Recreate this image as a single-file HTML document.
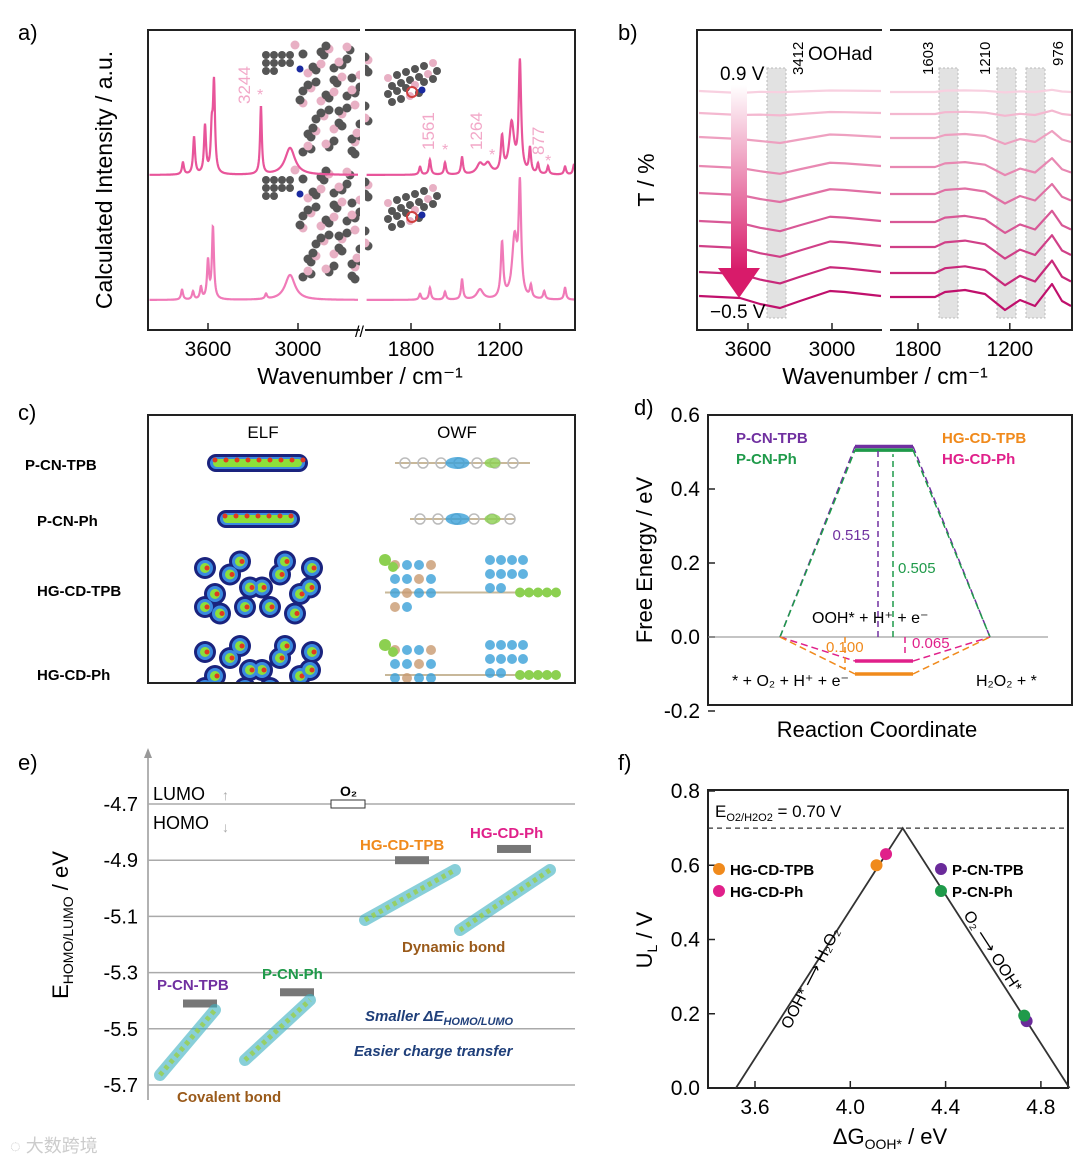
<!DOCTYPE html>
<html><head><meta charset="utf-8"><style>
body{margin:0;background:#fff}
svg text{font-family:"Liberation Sans",sans-serif}
</style></head><body>
<svg id="s" width="1080" height="1165" viewBox="0 0 1080 1165" xmlns="http://www.w3.org/2000/svg">
<defs>
<clipPath id="clipc"><rect x="149" y="416" width="425" height="266"/></clipPath>
<linearGradient id="ag" x1="0" y1="0" x2="0" y2="1"><stop offset="0" stop-color="#fff"/><stop offset="1" stop-color="#d81b6a"/></linearGradient>
</defs>
<!-- ===== Panel a ===== -->
<g>
<text x="18" y="40" font-size="22">a)</text>
<g id="mol"></g>
<g id="aspec"></g>
<rect x="148" y="30" width="427" height="300" fill="none" stroke="#222" stroke-width="2"/>
<rect x="360" y="20" width="5" height="320" fill="#fff"/>
<text x="112" y="180" font-size="23" transform="rotate(-90 112 180)" text-anchor="middle">Calculated Intensity / a.u.</text>
<text x="360" y="384" font-size="23" text-anchor="middle">Wavenumber / cm⁻¹</text>
<g id="aticks"></g>
<text x="250" y="104" font-size="17" fill="#f2a8c8" transform="rotate(-90 250 104)">3244</text>
<text x="257" y="100" font-size="16" fill="#f2a8c8">*</text>
<text x="434" y="150" font-size="17" fill="#f2a8c8" transform="rotate(-90 434 150)">1561</text>
<text x="442" y="155" font-size="16" fill="#f2a8c8">*</text>
<text x="482" y="150" font-size="17" fill="#f2a8c8" transform="rotate(-90 482 150)">1264</text>
<text x="489" y="160" font-size="16" fill="#f2a8c8">*</text>
<text x="544" y="155" font-size="17" fill="#f2a8c8" transform="rotate(-90 544 155)">877</text>
<text x="545" y="166" font-size="16" fill="#f2a8c8">*</text>
</g>
<!-- ===== Panel b ===== -->
<g>
<text x="618" y="40" font-size="22">b)</text>
<rect x="767" y="68" width="19" height="250" fill="#e2e2e2" stroke="#bbb" stroke-dasharray="2,2"/>
<rect x="939" y="68" width="19" height="250" fill="#e2e2e2" stroke="#bbb" stroke-dasharray="2,2"/>
<rect x="997" y="68" width="19" height="250" fill="#e2e2e2" stroke="#bbb" stroke-dasharray="2,2"/>
<rect x="1026" y="68" width="19" height="250" fill="#e2e2e2" stroke="#bbb" stroke-dasharray="2,2"/>
<g id="bspec"></g>
<rect x="697" y="30" width="375" height="300" fill="none" stroke="#222" stroke-width="2"/>
<rect x="882" y="20" width="8" height="320" fill="#fff"/>
<rect x="731" y="85" width="16" height="185" fill="url(#ag)"/>
<polygon points="718,268 760,268 739,298" fill="#d81b6a"/>
<text x="720" y="80" font-size="19">0.9 V</text>
<text x="710" y="318" font-size="19">−0.5 V</text>
<text x="654" y="180" font-size="23" transform="rotate(-90 654 180)" text-anchor="middle">T / %</text>
<text x="885" y="384" font-size="23" text-anchor="middle">Wavenumber / cm⁻¹</text>
<text x="808" y="60" font-size="19">OOHad</text>
<text x="803" y="75" font-size="15" transform="rotate(-90 803 75)">3412</text>
<text x="933" y="75" font-size="15" transform="rotate(-90 933 75)">1603</text>
<text x="990" y="75" font-size="15" transform="rotate(-90 990 75)">1210</text>
<text x="1063" y="66" font-size="15" transform="rotate(-90 1063 66)">976</text>
<g id="bticks"></g>
</g>
<!-- ===== Panel c ===== -->
<g>
<text x="18" y="420" font-size="22">c)</text>
<text x="263" y="438" font-size="17" text-anchor="middle">ELF</text>
<text x="457" y="438" font-size="17" text-anchor="middle">OWF</text>
<g font-size="15" font-weight="bold">
<text x="25" y="470">P-CN-TPB</text>
<text x="37" y="526">P-CN-Ph</text>
<text x="37" y="596">HG-CD-TPB</text>
<text x="37" y="680">HG-CD-Ph</text>
</g>
<g clip-path="url(#clipc)">
<g id="elfg"></g>
<g id="owfg"></g>
</g>
<rect x="148" y="415" width="427" height="268" fill="none" stroke="#222" stroke-width="2"/>
</g>
<!-- ===== Panel d ===== -->
<g>
<text x="634" y="415" font-size="22">d)</text>
<rect x="708" y="415" width="364" height="290" fill="none" stroke="#222" stroke-width="2"/>
<g id="dplot"></g>
<text x="652" y="560" font-size="22" transform="rotate(-90 652 560)" text-anchor="middle">Free Energy / eV</text>
<text x="877" y="737" font-size="22" text-anchor="middle">Reaction Coordinate</text>
<g font-size="15" font-weight="bold">
<text x="736" y="443" fill="#7030a0">P-CN-TPB</text>
<text x="736" y="464" fill="#1f9a4a">P-CN-Ph</text>
<text x="942" y="443" fill="#f08a1c">HG-CD-TPB</text>
<text x="942" y="464" fill="#e0208a">HG-CD-Ph</text>
</g>
<text x="812" y="623" font-size="16">OOH* + H⁺ + e⁻</text>
<text x="732" y="686" font-size="16">* + O₂ + H⁺ + e⁻</text>
<text x="976" y="686" font-size="16">H₂O₂ + *</text>
</g>
<!-- ===== Panel e ===== -->
<g>
<text x="18" y="770" font-size="22">e)</text>
<g id="eplot"></g>
<text x="68" y="925" font-size="22" transform="rotate(-90 68 925)" text-anchor="middle">E<tspan font-size="14" dy="5">HOMO/LUMO</tspan><tspan dy="-5"> / eV</tspan></text>
<text x="153" y="800" font-size="18">LUMO</text>
<text x="153" y="829" font-size="18">HOMO</text>
<text x="222" y="800" font-size="14" fill="#aaa">↑</text><text x="222" y="832" font-size="14" fill="#aaa">↓</text>
<text x="340" y="796" font-size="14" font-weight="bold">O₂</text>
<g font-size="15" font-weight="bold">
<text x="360" y="850" fill="#f08a1c">HG-CD-TPB</text>
<text x="470" y="838" fill="#e0208a">HG-CD-Ph</text>
<text x="157" y="990" fill="#7030a0">P-CN-TPB</text>
<text x="262" y="979" fill="#1f9a4a">P-CN-Ph</text>
<text x="402" y="952" fill="#9a5a1a">Dynamic bond</text>
<text x="177" y="1102" fill="#9a5a1a">Covalent bond</text>
<text x="365" y="1021" fill="#1f3f7a" font-style="italic">Smaller ΔE<tspan font-size="11" dy="4">HOMO/LUMO</tspan></text>
<text x="354" y="1056" fill="#1f3f7a" font-style="italic">Easier charge transfer</text>
</g>
</g>
<!-- ===== Panel f ===== -->
<g>
<text x="618" y="770" font-size="22">f)</text>
<rect x="708" y="790" width="360" height="298" fill="none" stroke="#222" stroke-width="2"/>
<g id="fplot"></g>
<text x="652" y="940" font-size="22" transform="rotate(-90 652 940)" text-anchor="middle">U<tspan font-size="14" dy="5">L</tspan><tspan dy="-5"> / V</tspan></text>
<text x="890" y="1144" font-size="22" text-anchor="middle">ΔG<tspan font-size="14" dy="5">OOH*</tspan><tspan dy="-5"> / eV</tspan></text>
<text x="715" y="817" font-size="17">E<tspan font-size="11" dy="4">O2/H2O2</tspan><tspan dy="-4"> = 0.70 V</tspan></text>
<g font-size="15" font-weight="bold">
<circle cx="719" cy="869" r="6" fill="#f08a1c"/><text x="730" y="875">HG-CD-TPB</text>
<circle cx="719" cy="891" r="6" fill="#e0208a"/><text x="730" y="897">HG-CD-Ph</text>
<circle cx="941" cy="869" r="6" fill="#6a2a9a"/><text x="952" y="875">P-CN-TPB</text>
<circle cx="941" cy="891" r="6" fill="#1f9a4a"/><text x="952" y="897">P-CN-Ph</text>
</g>
<text x="790" y="1030" font-size="16" transform="rotate(-63 790 1030)">OOH* ⟶ H₂O₂</text>
<text x="963" y="915" font-size="16" transform="rotate(57 963 915)">O₂ ⟶ OOH*</text>
</g>
<text x="10" y="1152" font-size="18" fill="#ccc">◌ 大数跨境</text>
</svg>
<script>
const NS="http://www.w3.org/2000/svg";
function mk(tag,attrs,parent){const e=document.createElementNS(NS,tag);for(const k in attrs)e.setAttribute(k,attrs[k]);parent.appendChild(e);return e;}
const $=id=>document.getElementById(id);

// ---------- Panel a data ----------
const aTicks=[3600,3000,1800,1200];
const aPeaksTopW=[3767,3693,3620,3575,3560,3247,3053,1739,1672,1570,1455,1334,1280,1185,1120,1064,996,942,874,759,699];
const aPeaksTopH=[12,37,48,40,88,68,27,8,15,12,17,10,10,35,50,110,25,10,8,8,10];
const aPeaksTopG=[8,8,8,8,8,7,40,8,8,8,8,25,25,10,20,10,8,8,8,8,8];
const aPeaksBotW=[3773,3700,3647,3600,3567,3213,3053,1739,1672,1570,1455,1334,1185,1100,1064,990,900,759];
const aPeaksBotH=[10,8,12,38,72,5,25,6,12,8,20,10,55,60,108,12,8,12];
const aPeaksBotG=[8,8,8,8,8,8,40,8,8,8,8,25,10,20,10,8,8,8];
function axA(w){return w>2400?208+(3600-w)*0.15:411+(1800-w)*0.148;}
function specA(ws,hs,gs,base,col,name){
  const segs=[[3990,2600],[2100,692]];
  segs.forEach(([a,b])=>{let d="";for(let w=a;w>=b;w-=2){let y=0;for(let i=0;i<ws.length;i++){y+=hs[i]/(1+((w-ws[i])/gs[i])**2);}
   d+=(d?"L":"M")+axA(w).toFixed(1)+","+(base-y).toFixed(1);}
   const p=mk("path",{d,fill:"none",stroke:col,"stroke-width":2.2},$("aspec"));
   
   });
}
specA(aPeaksTopW,aPeaksTopH,aPeaksTopG,175,"#e8559a","spectrum-top");
specA(aPeaksBotW,aPeaksBotH,aPeaksBotG,300,"#f07ab8","spectrum-bottom");
aTicks.forEach(t=>{const x=axA(t);mk("line",{x1:x,x2:x,y1:330,y2:323,stroke:"#222","stroke-width":1.5},$("aticks"));
 const tx=mk("text",{x:x,y:356,"font-size":21,"text-anchor":"middle"},$("aticks"));tx.textContent=t;
 
 });
mk("text",{x:355,y:337,"font-size":16},$("aticks")).textContent="//";
// molecules (decorative)
[[0],[125]].forEach(([oy])=>{
 for(let i=0;i<70;i++){const x=300+((i*37)%70)-5+((i*13)%11);const y=45+((i*23)%110)+oy;
  mk("circle",{cx:x,cy:y,r:4.5,fill:(i%3==0)?"#e8b0c4":"#555"},$("mol"));}
 for(let i=0;i<10;i++){mk("circle",{cx:266+(i%4)*8,cy:55+Math.floor(i/4)*8+oy,r:4,fill:"#555"},$("mol"));}
 mk("circle",{cx:300,cy:69+oy,r:3.5,fill:"#1a2aa0"},$("mol"));
 for(let i=0;i<22;i++){mk("circle",{cx:388+(i%6)*9+(Math.floor(i/6)%2)*4,cy:78+Math.floor(i/6)*8+oy-(i%6)*3,r:4,fill:i%5==0?"#e8b0c4":"#555"},$("mol"));}
 mk("circle",{cx:412,cy:92+oy,r:5,fill:"none",stroke:"#d04040","stroke-width":2},$("mol"));
 mk("circle",{cx:422,cy:90+oy,r:3.5,fill:"#1a2aa0"},$("mol"));
});

// ---------- Panel b ----------
const bTicks=[3600,3000,1800,1200];
const bOffsets=[91,113,137,166,193,221,246,272,296];
const bColors=["#f8d0e0","#f4b8d0","#eea0c0","#e888b2","#e070a4","#d85896","#d04088","#c8287a","#c0106c"];
const bAmp=[0.1,0.2,0.5,0.65,0.75,0.85,0.9,0.95,1];
function axB(w){return w>2400?748+(3600-w)*0.14:918+(1800-w)*0.153;}
bOffsets.forEach((o,k)=>{const a=bAmp[k];
 const segL=[[699,o],[740,o+2],[760,o+8*a],[780,o+12*a],[800,o+5*a],[830,o-5*a],[845,o-4*a],[881,o]];
 const segR=[[890,o+1],[935,o+1],[945,o-4*a],[965,o-6*a],[985,o-2*a],[1005,o+14*a],[1020,o+4*a],[1035,o+10*a],[1052,o-12*a],[1062,o+5*a],[1071,o+10*a]];
 [segL,segR].forEach(s=>{const p=mk("path",{d:"M"+s.map(q=>q.join(",")).join("L"),fill:"none",stroke:bColors[k],"stroke-width":2.2,"stroke-linejoin":"round"},$("bspec"));
  
  });});
bTicks.forEach(t=>{const x=axB(t);mk("line",{x1:x,x2:x,y1:330,y2:323,stroke:"#222","stroke-width":1.5},$("bticks"));
 const tx=mk("text",{x:x,y:356,"font-size":21,"text-anchor":"middle"},$("bticks"));tx.textContent=t;
 
 });

// ---------- Panel c ----------
const eg=$("elfg");
[[207,308,463],[217,300,519]].forEach(([x1,x2,y])=>{
 mk("rect",{x:x1,y:y-9,width:x2-x1,height:18,rx:9,fill:"#1a237e"},eg);
 mk("rect",{x:x1+3,y:y-6,width:x2-x1-6,height:12,rx:6,fill:"#3a8ae0"},eg);
 mk("rect",{x:x1+6,y:y-4,width:x2-x1-12,height:8,rx:4,fill:"#8ce03a"},eg);
 for(let x=x1+8;x<x2-4;x+=11)mk("circle",{cx:x,cy:y+((x/11)%2?-3:3),r:2.5,fill:"#e03a20"},eg);});
[[555,620],[640,700]].forEach(([y1,y2])=>{
 const cx=[205,215,230,245,262,280,300,312,220,240,270,295,310,205,250,285];
 const cy=[0.2,0.6,0.3,0.8,0.5,0.3,0.6,0.2,0.9,0.1,0.8,0.9,0.5,0.8,0.5,0.1];
 cx.forEach((x,i)=>{const y=y1+cy[i]*(y2-y1);mk("circle",{cx:x,cy:y,r:11,fill:"#1a237e"},eg);});
 cx.forEach((x,i)=>{const y=y1+cy[i]*(y2-y1);mk("circle",{cx:x,cy:y,r:8,fill:"#3a8ae0"},eg);mk("circle",{cx:x,cy:y,r:5,fill:"#8ce03a"},eg);mk("circle",{cx:x+2,cy:y,r:2.5,fill:"#e03a20"},eg);});
});
const og=$("owfg");
[[395,530,463],[410,515,519]].forEach(([x1,x2,y])=>{
 mk("line",{x1,x2,y1:y,y2:y,stroke:"#c8b89a","stroke-width":2},og);
 for(let x=x1+10;x<x2;x+=18)mk("circle",{cx:x,cy:y,r:5,fill:"none",stroke:"#bbb","stroke-width":1.5},og);
 mk("ellipse",{cx:(x1+x2)/2-5,cy:y,rx:12,ry:6,fill:"#3aa0d8",opacity:0.8},og);
 mk("ellipse",{cx:(x1+x2)/2+30,cy:y,rx:8,ry:5,fill:"#8cd050",opacity:0.8},og);});
[[555,620],[640,700]].forEach(([y1,y2])=>{
 mk("line",{x1:385,x2:560,y1:(y1+y2)/2+5,y2:(y1+y2)/2+5,stroke:"#c8b89a","stroke-width":2},og);
 for(let i=0;i<14;i++){mk("circle",{cx:395+(i%4)*12,cy:y1+10+Math.floor(i/4)*14,r:5,fill:i%3?"#3aa0d8":"#c89a70",opacity:0.8},og);}
 for(let i=0;i<10;i++){mk("circle",{cx:490+(i%4)*11,cy:y1+5+Math.floor(i/4)*14,r:5,fill:"#3aa0d8",opacity:0.8},og);}
 for(let i=0;i<5;i++){mk("circle",{cx:520+i*9,cy:(y1+y2)/2+5,r:5,fill:"#8cd050"},og);}
 mk("circle",{cx:385,cy:y1+5,r:6,fill:"#8cd050"},og);mk("circle",{cx:393,cy:y1+12,r:5,fill:"#8cd050"},og);
});

// ---------- Panel d ----------
const dTicks=[0.6,0.4,0.2,0.0,-0.2];
const dLevels=[0.515,0.505,-0.065,-0.100];
const dColors=["#7030a0","#1f9a4a","#e0208a","#f08a1c"];
const dLabels=["0.515","0.505","0.065","0.100"];
function yD(v){return 637-v*370;}
const dp=$("dplot");
dTicks.forEach(t=>{const y=yD(t);mk("line",{x1:708,x2:715,y1:y,y2:y,stroke:"#222","stroke-width":1.5},dp);
 const tx=mk("text",{x:700,y:y+7,"font-size":21,"text-anchor":"end"},dp);tx.textContent=t.toFixed(1);
 
 });
mk("line",{x1:708,x2:1048,y1:yD(0),y2:yD(0),stroke:"#888","stroke-width":1},dp);
dLevels.forEach((v,i)=>{const y=yD(v);
 mk("line",{x1:780,x2:855,y1:yD(0),y2:y,stroke:dColors[i],"stroke-width":1.5,"stroke-dasharray":"7,4"},dp);
 mk("line",{x1:913,x2:990,y1:y,y2:yD(0),stroke:dColors[i],"stroke-width":1.5,"stroke-dasharray":"7,4"},dp);
 const l=mk("line",{x1:855,x2:913,y1:y,y2:y,stroke:dColors[i],"stroke-width":3.5},dp);
 
 });
[[0,878],[1,893],[2,905],[3,845]].forEach(([i,x])=>{
 mk("line",{x1:x,x2:x,y1:yD(0),y2:yD(dLevels[i])+(dLevels[i]>0?4:-4),stroke:dColors[i],"stroke-width":1.5,"stroke-dasharray":"6,4"},dp);
 const t=mk("text",{x:i<2?(i==0?870:898):(i==2?912:826),y:i==0?540:(i==1?573:(i==2?648:652)),"font-size":15,fill:dColors[i],"text-anchor":i==0?"end":"start"},dp);t.textContent=dLabels[i];});

// ---------- Panel e ----------
const eTicks=[-4.7,-4.9,-5.1,-5.3,-5.5,-5.7];
const eNames=["O2","HG-CD-TPB","HG-CD-Ph","P-CN-TPB","P-CN-Ph"];
const eLevels=[-4.70,-4.90,-4.86,-5.41,-5.37];
const eX=[348,412,514,200,297];
function yE(v){return 804+(-4.7-v)*281;}
const ep=$("eplot");
mk("line",{x1:148,x2:148,y1:750,y2:1100,stroke:"#999","stroke-width":1.5},ep);
mk("polygon",{points:"144,758 152,758 148,748",fill:"#999"},ep);
eTicks.forEach(t=>{const y=yE(t);mk("line",{x1:148,x2:575,y1:y,y2:y,stroke:"#aaa","stroke-width":1.5},ep);
 const tx=mk("text",{x:138,y:y+7,"font-size":20,"text-anchor":"end"},ep);tx.textContent=t.toFixed(1);
 
 });
eLevels.forEach((v,i)=>{const r=mk("rect",{x:eX[i]-17,y:yE(v)-4,width:34,height:8,fill:i==0?"#fff":"#777",stroke:i==0?"#333":"none"},ep);
 
 });
[[160,1075,215,1010],[245,1060,310,1000],[365,920,455,870],[460,930,550,870]].forEach(([x1,y1,x2,y2])=>{
 mk("line",{x1,y1,x2,y2,stroke:"#3ab0c0","stroke-width":12,"stroke-linecap":"round",opacity:0.6},ep);
 mk("line",{x1,y1,x2,y2,stroke:"#9ad04a","stroke-width":5,"stroke-dasharray":"4,4",opacity:0.8},ep);});

// ---------- Panel f ----------
const fXTicks=[3.6,4.0,4.4,4.8];
const fYTicks=[0.0,0.2,0.4,0.6,0.8];
const fNames=["HG-CD-TPB","HG-CD-Ph","P-CN-TPB","P-CN-Ph"];
const fG=[4.11,4.15,4.74,4.73];
const fU=[0.60,0.63,0.18,0.195];
const fCols=["#f08a1c","#e0208a","#6a2a9a","#1f9a4a"];
const fLine=[[3.52,0.0],[4.22,0.70],[4.92,0.0]];
function xF(v){return 755+(v-3.6)*238.25;}
function yF(v){return 1088-v*371.25;}
const fp=$("fplot");
fXTicks.forEach(t=>{const x=xF(t);mk("line",{x1:x,x2:x,y1:1088,y2:1081,stroke:"#222","stroke-width":1.5},fp);
 const tx=mk("text",{x,y:1114,"font-size":21,"text-anchor":"middle"},fp);tx.textContent=t.toFixed(1);
 
 });
fYTicks.forEach(t=>{const y=yF(t);mk("line",{x1:708,x2:715,y1:y,y2:y,stroke:"#222","stroke-width":1.5},fp);
 const tx=mk("text",{x:700,y:y+7,"font-size":21,"text-anchor":"end"},fp);tx.textContent=t.toFixed(1);
 
 });
mk("line",{x1:708,x2:1068,y1:yF(0.70),y2:yF(0.70),stroke:"#333","stroke-width":1.2,"stroke-dasharray":"5,4"},fp);
const vl=mk("polyline",{points:fLine.map(p=>xF(p[0])+","+yF(p[1])).join(" "),fill:"none",stroke:"#333","stroke-width":1.8},fp);


fG.forEach((g,i)=>{const c=mk("circle",{cx:xF(g),cy:yF(fU[i]),r:6,fill:fCols[i]},fp);
 
 });
</script>
</body></html>
